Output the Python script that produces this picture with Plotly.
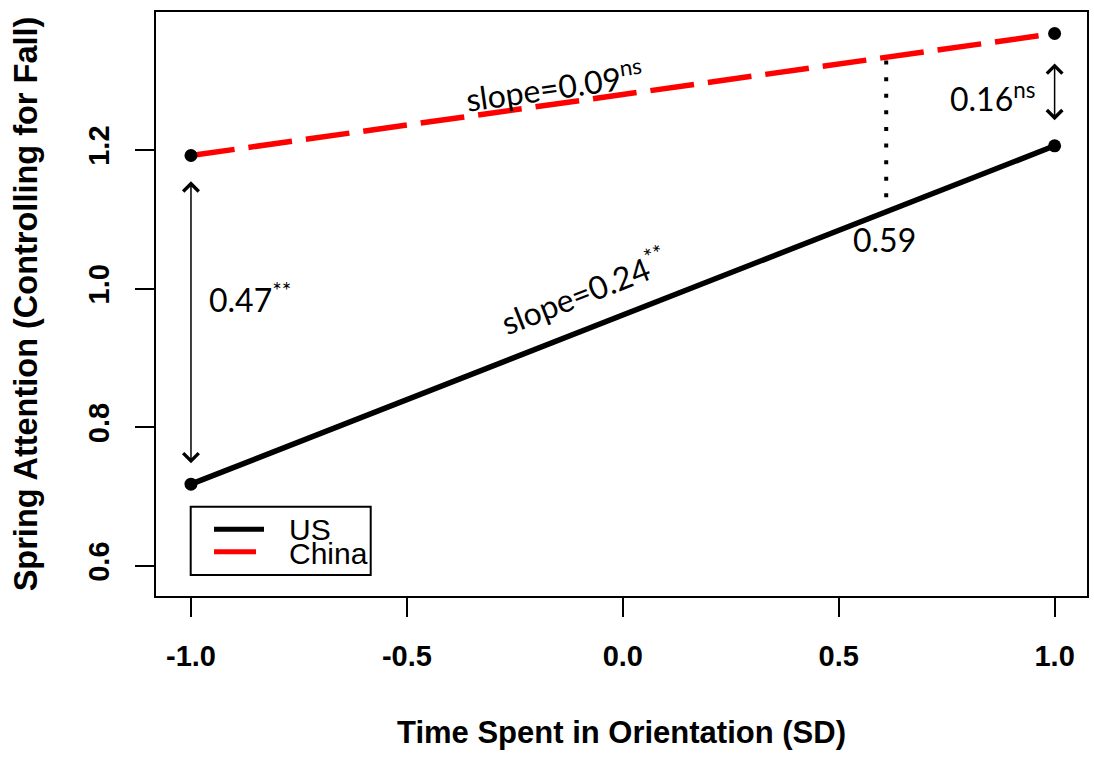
import plotly.graph_objects as go

# ---------------- data ----------------
x_vals = [-1.0, 1.0]
us_vals = [0.718, 1.206]
china_vals = [1.192, 1.368]
series_names = ["US", "China"]

x_tick_vals = [-1.0, -0.5, 0.0, 0.5, 1.0]
x_tick_text = ["-1.0", "-0.5", "0.0", "0.5", "1.0"]
y_tick_vals = [0.6, 0.8, 1.0, 1.2]
y_tick_text = ["0.6", "0.8", "1.0", "1.2"]

sig_x = [0.61, 0.61]          # region-of-significance boundary (dotted)
sig_y = [1.329, 1.131]
gap_left_y = [1.157, 0.748]   # double arrow at x=-1
gap_right_y = [1.327, 1.243]  # double arrow at x=1

# ---------------- geometry helpers ----------------
W, H = 1094, 761
ML, MR, MT, MB = 156, 7, 12, 165
PW, PH = W - ML - MR, H - MT - MB


def px(xp):
    return (xp - ML) / PW


def py(yp):
    return 1 - (yp - MT) / PH


ann_font = dict(family="Lato, Open Sans, sans-serif", size=32, color="black")
axis_font = dict(family="Liberation Sans, Arial, sans-serif", size=29, color="black", weight="bold")
xtitle_font = dict(family="Liberation Sans, Arial, sans-serif", size=31, color="black", weight="bold")
ytitle_font = dict(family="Liberation Sans, Arial, sans-serif", size=32.5, color="black", weight="bold")
leg_font = dict(family="Liberation Sans, Arial, sans-serif", size=30, color="black")

fig = go.Figure()

fig.add_trace(go.Scatter(
    x=sig_x, y=sig_y, mode="lines", showlegend=False, hoverinfo="skip",
    line=dict(color="black", width=4, dash="4px,12.6px")))

fig.add_trace(go.Scatter(
    x=x_vals, y=china_vals, name=series_names[1], mode="lines+markers",
    line=dict(color="#ff0000", width=5.5, dash="44px,14px"),
    marker=dict(color="black", size=13), showlegend=False))

fig.add_trace(go.Scatter(
    x=x_vals, y=us_vals, name=series_names[0], mode="lines+markers",
    line=dict(color="black", width=5.5),
    marker=dict(color="black", size=13), showlegend=False))

annotations = []
# double-headed arrows
for xv, ys in ((x_vals[0], gap_left_y), (x_vals[1], gap_right_y)):
    annotations.append(dict(
        x=xv, y=ys[1], ax=xv, ay=ys[0], xref="x", yref="y", axref="x", ayref="y",
        text="", showarrow=True, arrowhead=4, startarrowhead=4, arrowside="end+start",
        arrowsize=2, startarrowsize=2, arrowwidth=1.5, arrowcolor="black",
        standoff=0, startstandoff=0))

# text labels
annotations += [
    dict(x=-0.16, y=1.294, text="slope=0.09<sup>ns</sup>", textangle=-8),
    dict(x=-0.09, y=0.998, text="slope=0.24<sup>**</sup>", textangle=-21.4),
    dict(x=0.857, y=1.2765, text="0.16<sup>ns</sup>"),
    dict(x=0.607, y=1.0716, text="0.59"),
    dict(x=-0.863, y=0.986, text="0.47<sup>**</sup>"),
]
for a in annotations[2:]:
    a.update(xref="x", yref="y", showarrow=False, font=ann_font)

# manual legend (R style)
shapes = [
    dict(type="rect", xref="paper", yref="paper", x0=px(190.7), x1=px(370.7),
         y0=py(575), y1=py(506.7), line=dict(color="black", width=2), fillcolor="white", layer="above"),
    dict(type="line", xref="paper", yref="paper", x0=px(214), x1=px(264),
         y0=py(529.3), y1=py(529.3), line=dict(color="black", width=5)),
    dict(type="line", xref="paper", yref="paper", x0=px(214), x1=px(256),
         y0=py(551.7), y1=py(551.7), line=dict(color="#ff0000", width=5)),
]
annotations += [
    dict(xref="paper", yref="paper", x=px(287), y=py(529), text=series_names[0],
         xanchor="left", yanchor="middle", showarrow=False, font=leg_font),
    dict(xref="paper", yref="paper", x=px(287), y=py(553), text=series_names[1],
         xanchor="left", yanchor="middle", showarrow=False, font=leg_font),
]

fig.update_layout(
    width=W, height=H, margin=dict(l=ML, r=MR, t=MT, b=MB, autoexpand=False),
    plot_bgcolor="white", paper_bgcolor="white",
    annotations=annotations, shapes=shapes,
    xaxis=dict(range=[-1.081, 1.075], tickvals=x_tick_vals, ticktext=x_tick_text,
               ticks="outside", ticklen=19, tickwidth=2, tickcolor="black",
               showline=True, mirror=True, linewidth=2, linecolor="black",
               showgrid=False, zeroline=False, tickfont=axis_font, ticklabelstandoff=14,
               title=dict(text="Time Spent in Orientation (SD)", font=xtitle_font, standoff=51)),
    yaxis=dict(range=[0.5567, 1.399], tickvals=y_tick_vals, ticktext=y_tick_text,
               ticks="outside", ticklen=19, tickwidth=2, tickcolor="black", tickangle=-90,
               showline=True, mirror=True, linewidth=2, linecolor="black",
               showgrid=False, zeroline=False, tickfont=axis_font, ticklabelstandoff=14,
               title=dict(text="Spring Attention (Controlling for Fall)", font=ytitle_font, standoff=36)),
)

fig.write_html("out.html")
